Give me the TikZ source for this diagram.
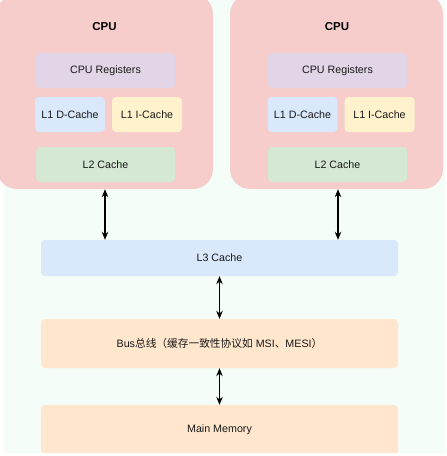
\documentclass[tikz,border=0pt]{standalone}
\usepackage{fontspec}
\setmainfont{Liberation Sans}
\newfontfamily\cjk{Noto Sans CJK SC}
\usetikzlibrary{arrows.meta}
\definecolor{bgG}{HTML}{F4FDF7}
\definecolor{cpuF}{HTML}{F6CDCB}
\definecolor{regF}{HTML}{E1D5E7}
\definecolor{blueF}{HTML}{DAE8FC}
\definecolor{yelF}{HTML}{FFF2CC}
\definecolor{grnF}{HTML}{D5E8D4}
\definecolor{orgF}{HTML}{FFE6CC}
\tikzset{
  box/.style={rectangle, rounded corners=4pt, inner sep=0pt, draw=none,
    font=\fontsize{10.7}{12}\selectfont, text=black!90},
  cpubox/.style={rectangle, rounded corners=20pt, inner sep=0pt, draw=none, fill=cpuF},
  cpulabel/.style={font=\fontsize{11.5}{13}\selectfont\bfseries, inner sep=0pt, text=black},
  arr/.style={line width=1.1pt, {Stealth[length=8pt,width=6.5pt]}-{Stealth[length=8pt,width=6.5pt]}}
}
\begin{document}
\begin{tikzpicture}[x=1pt,y=-1pt]
\useasboundingbox (0,0) rectangle (447,456);
\fill[white] (0,0) rectangle (447,456);
\fill[bgG] (4,0) rectangle (445,453);
% CPU containers
\node[cpubox, minimum width=216pt, minimum height=195pt] (cpuL) at (105,91.5) {};
\node[cpubox, minimum width=213pt, minimum height=195pt] (cpuR) at (336.5,91.5) {};
\node[cpulabel] (cpuLt) at (104.5,27) {CPU};
\node[cpulabel] (cpuRt) at (337,27) {CPU};
% left CPU internals
\node[box, fill=regF, minimum width=139pt, minimum height=35pt] (regL) at (105.5,70.5) {CPU Registers};
\node[box, fill=blueF, minimum width=70pt, minimum height=35pt] (l1dL) at (70,114.5) {L1 D-Cache};
\node[box, fill=yelF, minimum width=70pt, minimum height=35pt] (l1iL) at (147,114.5) {L1 I-Cache};
\node[box, fill=grnF, minimum width=139pt, minimum height=35pt] (l2L) at (105.5,164.5) {L2 Cache};
% right CPU internals
\node[box, fill=regF, minimum width=139pt, minimum height=35pt] (regR) at (337.5,70.5) {CPU Registers};
\node[box, fill=blueF, minimum width=70pt, minimum height=35pt] (l1dR) at (302.5,114.5) {L1 D-Cache};
\node[box, fill=yelF, minimum width=70pt, minimum height=35pt] (l1iR) at (379.5,114.5) {L1 I-Cache};
\node[box, fill=grnF, minimum width=139pt, minimum height=35pt] (l2R) at (337.5,164.5) {L2 Cache};
% shared
\node[box, fill=blueF, minimum width=357pt, minimum height=36pt] (l3) at (219.5,258) {L3 Cache};
\node[box, fill=orgF, minimum width=357pt, minimum height=49pt] (bus) at (219.5,343.5) {Bus{\cjk 总线（缓存一致性协议如} MSI{\cjk 、}MESI{\cjk ）}};
\node[box, fill=orgF, minimum width=357pt, minimum height=49pt] (mem) at (219.5,429.5) {Main Memory};
% connectors
\draw[arr] (cpuL.south) -- (cpuL.south |- l3.north);
\draw[arr] ([xshift=1.5pt]cpuR.south) -- ([xshift=1.5pt]cpuR.south |- l3.north);
\draw[arr] (l3.south) -- (bus.north);
\draw[arr] (bus.south) -- (mem.north);
% outer margin
\fill[white] (0,453) rectangle (447,456);
\end{tikzpicture}
\end{document}
